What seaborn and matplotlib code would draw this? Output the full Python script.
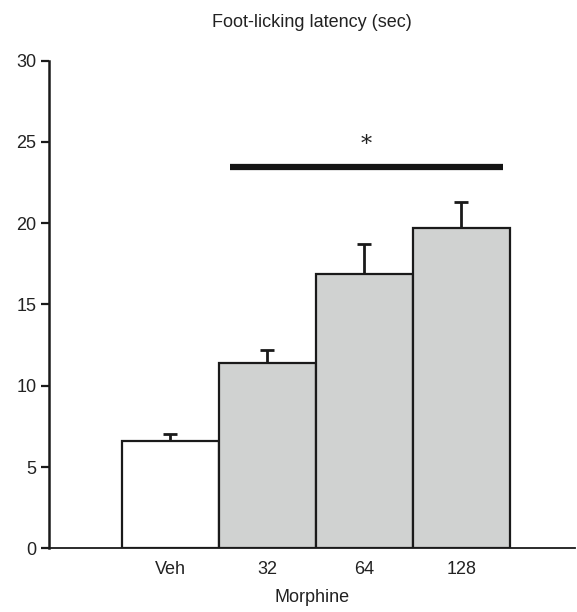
import matplotlib
matplotlib.use("Agg")
import matplotlib.pyplot as plt
import seaborn as sns
import pandas as pd

# valores
groups = ["Veh", "32", "64", "128"]
latency = [6.6, 11.4, 16.9, 19.7]
sem = [0.45, 0.8, 1.8, 1.6]
bar_colors = ["#ffffff", "#d0d2d1", "#d0d2d1", "#d0d2d1"]

df = pd.DataFrame({"group": groups, "latency": latency})

sns.set_style("white")
plt.rcParams["font.family"] = ["Liberation Sans", "DejaVu Sans"]

fig = plt.figure(figsize=(5.77, 6.12), dpi=100)
ax = fig.add_axes([0.085, 0.104, 0.911, 0.797])

sns.barplot(data=df, x="group", y="latency", hue="group", palette=bar_colors,
            width=1.0, edgecolor="#1a1a1a", linewidth=1.6, legend=False, ax=ax)

# barras de erro só para cima (esconde o cap de baixo)
eb = ax.errorbar(range(len(groups)), latency, yerr=[[0] * len(sem), sem], fmt="none",
                 ecolor="#1a1a1a", elinewidth=2, capsize=5, capthick=2)
eb[1][0].set_visible(False)

# linha de significância
ax.plot([0.62, 3.43], [23.45, 23.45], color="#141414", lw=4.5, solid_capstyle="butt")
ax.text(2.02, 24.8, "*", ha="center", va="center", fontsize=16, color="#222222",
        family="DejaVu Serif")

ax.set_ylim(0, 30)
ax.set_xlim(-1.25, 4.17)
ax.set_yticks([0, 5, 10, 15, 20, 25, 30])
ax.set_title("Foot-licking latency (sec)", fontsize=13, pad=24, color="#222222")
ax.set_xlabel("Morphine", fontsize=13, labelpad=8, color="#222222")
ax.set_ylabel("")

for s in ["top", "right"]:
    ax.spines[s].set_visible(False)
ax.spines["left"].set_linewidth(1.8)
ax.spines["left"].set_color("#1a1a1a")
ax.spines["bottom"].set_linewidth(1.3)
ax.spines["bottom"].set_color("#1a1a1a")
ax.tick_params(axis="y", direction="out", length=6, width=1.6, color="#1a1a1a",
               labelsize=13, pad=3, labelcolor="#222222", left=True)
ax.tick_params(axis="x", length=0, labelsize=13, pad=9, labelcolor="#222222")

fig.savefig("out.png", dpi=100)
